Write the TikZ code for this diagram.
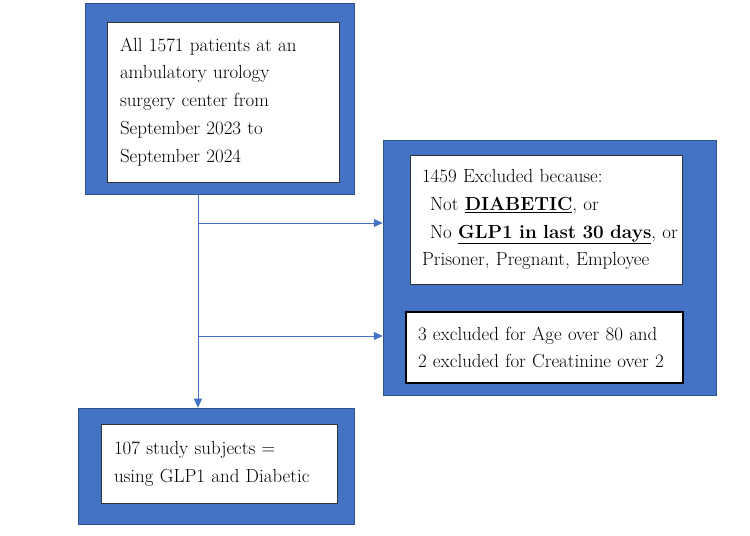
\documentclass[tikz,border=0pt]{standalone}
\usepackage{tikz}
\usetikzlibrary{arrows.meta}
\definecolor{boxblue}{HTML}{4472C4}
\definecolor{edgeblue}{HTML}{2F528F}

\begin{document}
\begin{tikzpicture}[x=1bp,y=1bp,
  frame/.style={fill=boxblue,draw=edgeblue,line width=0.5pt,inner sep=0pt},
  card/.style={fill=white,draw=black!80,line width=0.5pt,align=left,inner ysep=0pt,
    font=\fontsize{19}{28}\selectfont},
  flow/.style={draw=boxblue,line width=0.8pt,-{Triangle[length=9bp,width=8bp]}}]
  \useasboundingbox (0,0) rectangle (750,536);
  % source population
  \node[frame,minimum width=269bp,minimum height=191bp] (allf) at (219.5,437.5) {};
  \node[card,minimum width=232bp,minimum height=160bp,inner xsep=13bp,text width=206bp]
    (all) at (223,434) {All 1571 patients at an\\ ambulatory urology\\ surgery center from\\ September 2023 to\\ September 2024};
  % exclusions
  \node[frame,minimum width=333bp,minimum height=255bp] (exclf) at (549.5,268.5) {};
  \node[card,minimum width=272bp,minimum height=129bp,inner xsep=12bp,text width=248bp]
    (excl) at (546,316.5) {1459 Excluded because:\\
      \hspace*{8bp}Not \underline{\textbf{DIABETIC}}, or\\
      \mbox{\hspace*{8bp}No \underline{\textbf{GLP1 in last 30 days}}, or}\\
      \mbox{Prisoner, Pregnant, Employee}};
  \node[card,draw=black,line width=1.2pt,minimum width=277bp,minimum height=71bp,inner xsep=12bp,text width=253bp]
    (agecr) at (544.5,188.5) {\mbox{3 excluded for Age over 80 and}\\ \mbox{2 excluded for Creatinine over 2}};
  % final cohort
  \node[frame,minimum width=276bp,minimum height=116bp] (studyf) at (216,70) {};
  \node[card,minimum width=236bp,minimum height=79bp,inner xsep=13bp,text width=210bp]
    (study) at (219,72.5) {107 study subjects =\\ using GLP1 and Diabetic};
  \coordinate (split1) at (198,313);
  \coordinate (split2) at (198,200);
  \draw[flow] (allf.south -| split1) -- (studyf.north -| split1);
  \draw[flow] (split1) -- (split1 -| exclf.west);
  \draw[flow] (split2) -- (split2 -| exclf.west);
\end{tikzpicture}
\end{document}
